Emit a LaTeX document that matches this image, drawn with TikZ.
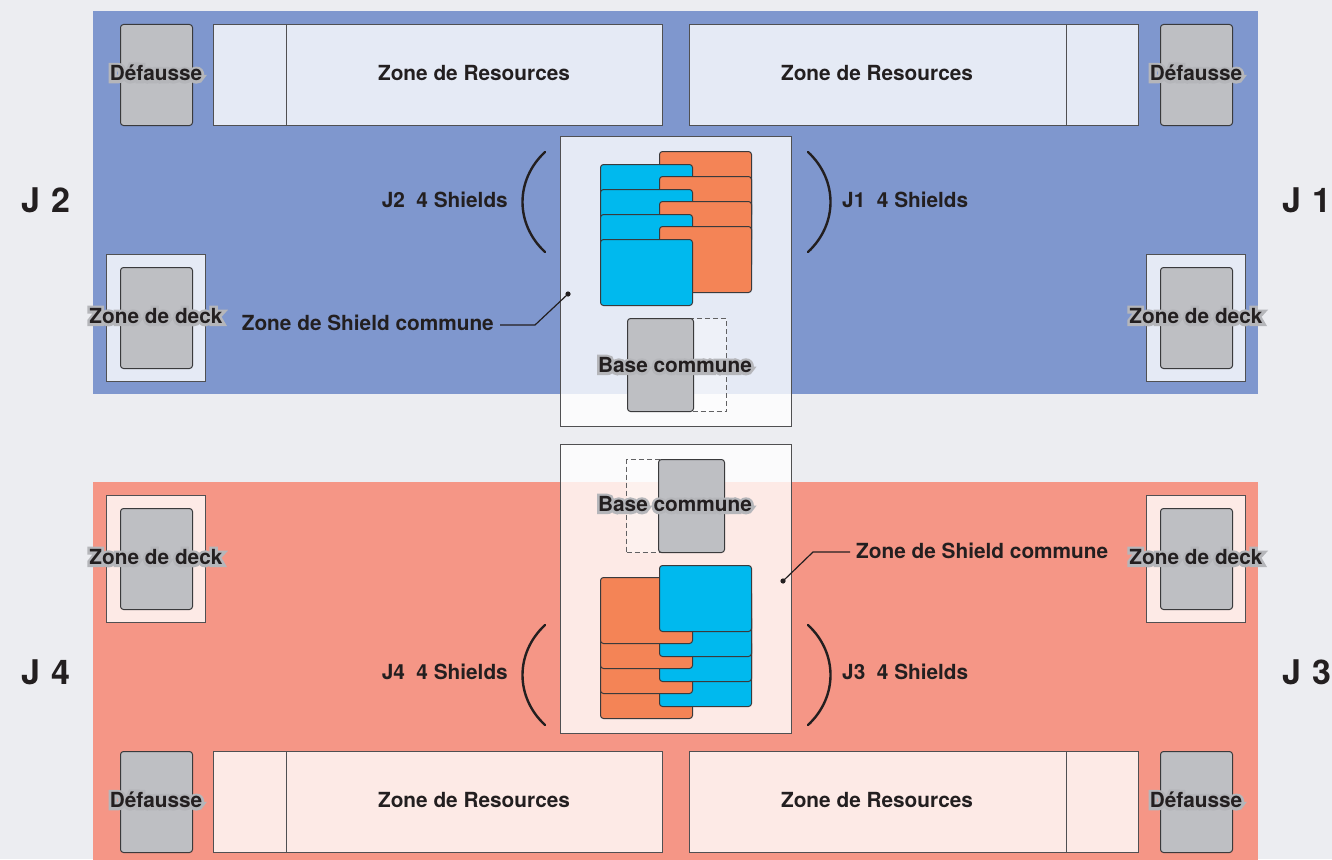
\documentclass[tikz,border=0pt]{standalone}
\usepackage{fontspec}
\setmainfont{TeX Gyre Heros}
\newfontfamily\halofont{TeX Gyre Heros}[BoldFeatures={FakeBold=26}]
\usepackage{tikz}
\usetikzlibrary{positioning,calc}

\definecolor{bg}{HTML}{ECEDF1}
\definecolor{topblue}{HTML}{7F97CE}
\definecolor{botred}{HTML}{F59686}
\definecolor{cardgray}{HTML}{BEBFC3}
\definecolor{edge}{HTML}{3A3A3C}
\definecolor{boxline}{HTML}{505052}
\definecolor{cyanshield}{HTML}{00B9EE}
\definecolor{orangeshield}{HTML}{F48456}
\definecolor{ink}{HTML}{231F20}
\definecolor{halo}{HTML}{B5B6BA}

\begin{document}
\begin{tikzpicture}[
    x=1pt, y=-1pt,
    lbl/.style={font=\bfseries\fontsize{20.8}{24}\selectfont, text=ink, inner sep=0pt},
    haloback/.style={font=\halofont\bfseries\fontsize{20.8}{24}\selectfont, text=halo, inner sep=0pt},
    playerlbl/.style={font=\bfseries\fontsize{34}{36}\selectfont, text=ink, inner sep=0pt},
    zone/.style={draw=boxline, line width=1pt, fill=white, fill opacity=0.8, inner sep=0pt, anchor=north west},
    pile/.style={draw=edge, line width=1pt, rounded corners=3pt, fill=cardgray, inner sep=0pt, anchor=north west, minimum width=72pt, minimum height=101pt},
    basecard/.style={pile, minimum width=66pt, minimum height=93pt},
    ghost/.style={draw=edge!80, line width=1pt, dash pattern=on 5pt off 3pt, fill=white, fill opacity=0.35, inner sep=0pt, anchor=north west, minimum width=66pt, minimum height=93pt},
    shield/.style={draw=edge, line width=1pt, rounded corners=3pt, inner sep=0pt, anchor=north west, minimum width=92pt, minimum height=66pt},
    paren/.style={line width=2.4pt, draw=ink, line cap=round},
    leader/.style={line width=1.2pt, draw=ink}
]
\useasboundingbox (0,0) rectangle (1332,859);
\fill[bg] (0,0) rectangle (1332,859);

% player areas
\fill[topblue] (93,11) rectangle (1258,394);
\fill[botred] (93,482) rectangle (1258,870);

% top half (J1 / J2)
\node[pile] (discTL) at (120,24) {};
\node[zone, minimum width=449pt, minimum height=101pt] (resTL) at (213,24) {};
\node[zone, minimum width=449pt, minimum height=101pt] (resTR) at (689,24) {};
\node[pile] (discTR) at (1160,24) {};
\draw[boxline, line width=1pt] ([xshift=73pt]resTL.north west) -- ([xshift=73pt]resTL.south west);
\draw[boxline, line width=1pt] ([xshift=-73pt]resTR.north east) -- ([xshift=-73pt]resTR.south east);
\node[zone, minimum width=99pt, minimum height=127pt] (deckTL) at (106,254) {};
\node[pile] (deckcardTL) at (120,267) {};
\node[zone, minimum width=99pt, minimum height=127pt] (deckTR) at (1146,254) {};
\node[pile] (deckcardTR) at (1160,267) {};

% bottom half (J3 / J4)
\node[pile] (discBL) at (120,751) {};
\node[zone, minimum width=449pt, minimum height=101pt] (resBL) at (213,751) {};
\node[zone, minimum width=449pt, minimum height=101pt] (resBR) at (689,751) {};
\node[pile] (discBR) at (1160,751) {};
\draw[boxline, line width=1pt] ([xshift=73pt]resBL.north west) -- ([xshift=73pt]resBL.south west);
\draw[boxline, line width=1pt] ([xshift=-73pt]resBR.north east) -- ([xshift=-73pt]resBR.south east);
\node[zone, minimum width=99pt, minimum height=127pt] (deckBL) at (106,495) {};
\node[pile] (deckcardBL) at (120,508) {};
\node[zone, minimum width=99pt, minimum height=127pt] (deckBR) at (1146,495) {};
\node[pile] (deckcardBR) at (1160,508) {};

% shared zones
\node[zone, minimum width=231pt, minimum height=290pt] (commonT) at (560,136) {};
\node[zone, minimum width=231pt, minimum height=289pt] (commonB) at (560,444) {};

\foreach \i in {0,1,2,3} {
    \node[shield, fill=orangeshield] (orT\i) at (659,151+25*\i) {};
    \node[shield, fill=cyanshield] (cyT\i) at (600,164+25*\i) {};
}
\foreach \i in {0,1,2,3} {
    \node[shield, fill=orangeshield] (orB\i) at (600,652-25*\i) {};
    \node[shield, fill=cyanshield] (cyB\i) at (659,640-25*\i) {};
}

\node[ghost] (ghostT) at (660,318) {};
\node[basecard] (baseT) at (627,318) {};
\node[ghost] (ghostB) at (626,459) {};
\node[basecard] (baseB) at (658,459) {};

% brackets
\draw[paren] (545,152) .. controls (515,180) and (515,224) .. (545,252);
\draw[paren] (808,152) .. controls (838,180) and (838,224) .. (808,252);
\draw[paren] (545,625) .. controls (515,653) and (515,697) .. (545,725);
\draw[paren] (808,625) .. controls (838,653) and (838,697) .. (808,725);

% haloed labels
\foreach \n/\x/\y/\t in {DiscL/156/73/Défausse, DiscR/1196/73/Défausse,
    DeckTL/156/316/Zone de deck, DeckTR/1196/316/Zone de deck,
    BaseT/675/365/Base commune, BaseB/675/504/Base commune,
    DeckBL/156/557/Zone de deck, DeckBR/1196/557/Zone de deck,
    DiscBL/156/800/Défausse, DiscBR/1196/800/Défausse} {
    \node[haloback] (h\n) at (\x,\y) {\t};
    \node[lbl] (t\n) at (\x,\y) {\t};
}

% plain labels
\node[lbl] (tResTL) at (474,73) {Zone de Resources};
\node[lbl] (tResTR) at (877,73) {Zone de Resources};
\node[lbl, anchor=east] (tJ2s) at (508,200) {J2~~4 Shields};
\node[lbl, anchor=west] (tJ1s) at (842,200) {J1~~4 Shields};
\node[lbl, anchor=east] (shieldT) at (494,323) {Zone de Shield commune};

\node[lbl] (tResBL) at (474,800) {Zone de Resources};
\node[lbl] (tResBR) at (877,800) {Zone de Resources};
\node[lbl, anchor=east] (tJ4s) at (508,672) {J4~~4 Shields};
\node[lbl, anchor=west] (tJ3s) at (842,672) {J3~~4 Shields};
\node[lbl, anchor=west] (shieldB) at (856,551) {Zone de Shield commune};

% leaders
\coordinate (dotT) at (568,294);
\coordinate (dotB) at (783,581);
\fill[ink] (dotT) circle (2.6pt);
\fill[ink] (dotB) circle (2.6pt);
\draw[leader] ($(shieldT.east)+(6,2)$) -- ($(shieldT.east)+(41,2)$) -- (dotT);
\draw[leader] ($(shieldB.west)+(-6,1)$) -- ($(shieldB.west)+(-43,1)$) -- (dotB);

% players
\node[playerlbl] (pJ2) at (46,200) {J\kern12pt2};
\node[playerlbl] (pJ1) at (1307,200) {J\kern12pt1};
\node[playerlbl] (pJ4) at (46,672) {J\kern12pt4};
\node[playerlbl] (pJ3) at (1307,672) {J\kern12pt3};
\end{tikzpicture}
\end{document}
